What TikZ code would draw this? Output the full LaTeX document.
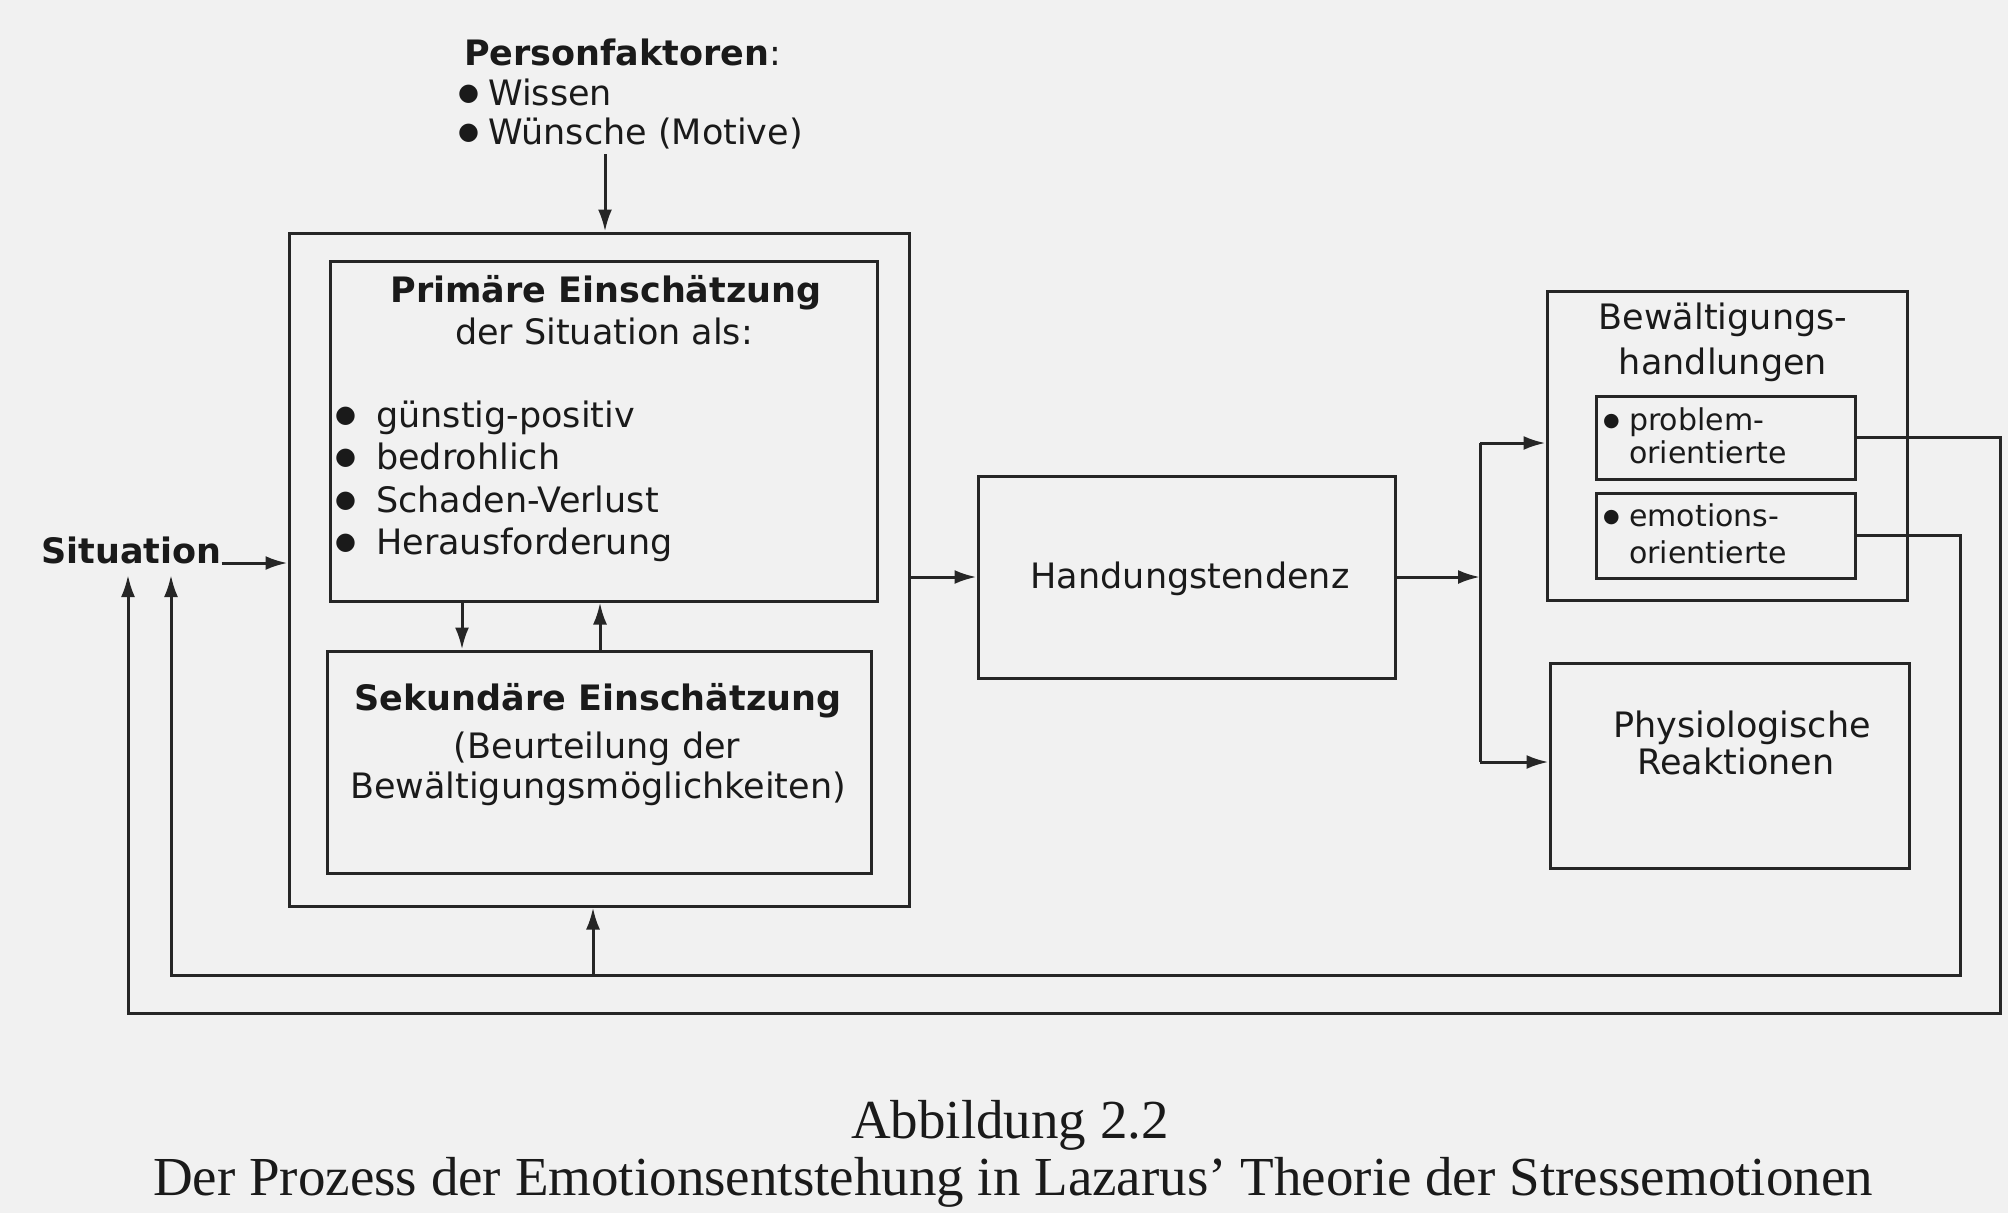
\documentclass[tikz,border=0pt]{standalone}
\usepackage{fontspec}
\setmainfont{Liberation Serif}
\setsansfont{DejaVu Sans}
\usetikzlibrary{arrows.meta}
\definecolor{lc}{HTML}{262626}
\definecolor{tc}{HTML}{1A1A1A}
\definecolor{bg}{HTML}{F1F1F1}
\newcommand{\bigbul}{\raisebox{5pt}{\fontsize{24}{24}\selectfont ●}}
\newcommand{\smallbul}{\raisebox{4pt}{\fontsize{19}{19}\selectfont ●}}
\begin{document}
\begin{tikzpicture}[x=1pt,y=-1pt,
  box/.style={draw=lc, line width=3pt, inner sep=0pt},
  conn/.style={draw=lc, line width=3pt},
  arr/.style={conn, -{Latex[length=22pt,width=14pt]}},
  txt/.style={anchor=base, inner sep=0pt, text=tc, font=\sffamily\fontsize{35}{42}\selectfont},
  btxt/.style={txt, font=\sffamily\bfseries\fontsize{35}{42}\selectfont},
  stxt/.style={txt, font=\sffamily\fontsize{30}{36}\selectfont},
  captxt/.style={anchor=base, inner sep=0pt, text=tc, font=\rmfamily\fontsize{55}{66}\selectfont}]
\fill[bg] (0,0) rectangle (2008,1213);
\useasboundingbox (0,0) rectangle (2008,1213);

% boxes
\node[box, minimum width=620pt, minimum height=673pt] (outer) at (599,569.5) {};
\node[box, minimum width=547pt, minimum height=340pt] (prim) at (603.5,431) {};
\node[box, minimum width=544pt, minimum height=222pt] (sek) at (599,762) {};
\node[box, minimum width=417pt, minimum height=202pt] (hand) at (1186.5,577) {};
\node[box, minimum width=360pt, minimum height=309pt] (bew) at (1727,445.5) {};
\node[box, minimum width=259pt, minimum height=83pt] (prob) at (1725.5,437.5) {};
\node[box, minimum width=259pt, minimum height=85pt] (emo) at (1725.5,535.5) {};
\node[box, minimum width=359pt, minimum height=205pt] (phys) at (1729.5,765.5) {};

% Personfaktoren
\node[txt, anchor=base west] (pf) at (464,65) {\textbf{Personfaktoren}:};
\node[txt, anchor=base west] (pf1) at (458,105) {\makebox[30pt][l]{\bigbul}Wissen};
\node[txt, anchor=base west] (pf2) at (458,144) {\makebox[30pt][l]{\bigbul}Wünsche (Motive)};

% Primary
\node[btxt] (pt1) at (606,302) {Primäre Einschätzung};
\node[txt] (pt2) at (604,344) {der Situation als:};
\node[txt, anchor=base west] (pb1) at (335,427) {\makebox[41pt][l]{\bigbul}günstig-positiv};
\node[txt, anchor=base west] (pb2) at (335,469) {\makebox[41pt][l]{\bigbul}bedrohlich};
\node[txt, anchor=base west] (pb3) at (335,512) {\makebox[41pt][l]{\bigbul}Schaden-Verlust};
\node[txt, anchor=base west] (pb4) at (335,554) {\makebox[41pt][l]{\bigbul}Herausforderung};

% Secondary
\node[btxt] (st1) at (598,710) {Sekundäre Einschätzung};
\node[txt] (st2) at (597,758) {(Beurteilung der};
\node[txt] (st3) at (598,798) {Bewältigungsmöglichkeiten)};

% Situation
\node[btxt, anchor=base west] (sit) at (41,563) {Situation};

% Handungstendenz
\node[txt] (ht) at (1190,588) {Handungstendenz};

% Bewaeltigungshandlungen
\node[txt] (bt1) at (1723,329) {Bewältigungs-};
\node[txt] (bt2) at (1723,374) {handlungen};
\node[stxt, anchor=base west] (pr1) at (1603,430) {\makebox[26pt][l]{\smallbul}problem-};
\node[stxt, anchor=base west] (pr2) at (1629,463) {orientierte};
\node[stxt, anchor=base west] (em1) at (1603,526) {\makebox[26pt][l]{\smallbul}emotions-};
\node[stxt, anchor=base west] (em2) at (1629,563) {orientierte};

% Physiologische
\node[txt] (ph1) at (1742,737) {Physiologische};
\node[txt] (ph2) at (1736,774) {Reaktionen};

% caption
\node[captxt] (c1) at (1010,1138) {Abbildung 2.2};
\node[captxt] (c2) at (1013,1195) {Der Prozess der Emotionsentstehung in Lazarus' Theorie der Stressemotionen};

% coordinates
\coordinate (pa) at (605,154);
\coordinate (d1) at (462,0);
\coordinate (u1) at (600,0);
\coordinate (jtop) at (1480,443);
\coordinate (jbot) at (1480,762);
\coordinate (jmid) at (1480,577);
\coordinate (ro) at (2000,1013);
\coordinate (lo) at (128,1013);
\coordinate (lo2) at (128,575);
\coordinate (ri) at (1960,975);
\coordinate (li) at (171,975);
\coordinate (li2) at (171,575);
\coordinate (br) at (593,975);

% connectors
\draw[arr] (pa) -- (pa |- outer.north);
\draw[arr] (sit.base east) -- (sit.base east -| outer.west);
\draw[arr] (prim.south -| d1) -- (sek.north -| d1);
\draw[arr] (sek.north -| u1) -- (prim.south -| u1);
\draw[arr] (outer.east |- hand.west) -- (hand.west);
\draw[arr] (hand.east) -- (jmid);
\draw[conn] (jtop) -- (jbot);
\draw[arr] (jtop) -- (jtop -| bew.west);
\draw[arr] (jbot) -- (jbot -| phys.west);
\draw[arr] (prob.east) -| (ro) -- (lo) -- (lo2);
\draw[arr] (emo.east) -| (ri) -- (li) -- (li2);
\draw[arr] (br) -- (br |- outer.south);
\end{tikzpicture}
\end{document}
